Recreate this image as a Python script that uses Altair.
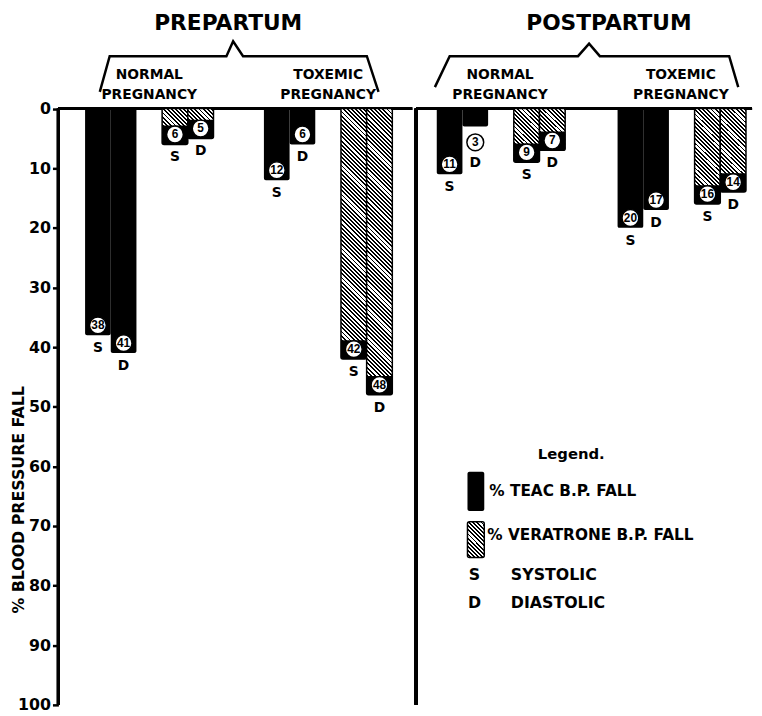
import altair as alt
import pandas as pd

# ---------------- data ----------------
periods = ["PREPARTUM", "POSTPARTUM"]
groups = ["NORMAL\nPREGNANCY", "TOXEMIC\nPREGNANCY"]
series = ["TEAC S", "TEAC D", "VERATRONE S", "VERATRONE D"]
prepartum_normal = [38, 41, 6, 5]
prepartum_toxemic = [12, 6, 42, 48]
postpartum_normal = [11, 3, 9, 7]
postpartum_toxemic = [20, 17, 16, 14]
y_ticks = [0, 10, 20, 30, 40, 50, 60, 70, 80, 90, 100]
legend_title = "Legend."
legend_swatch_labels = ["% TEAC B.P. FALL", "% VERATRONE B.P. FALL"]
legend_letters = ["S", "D"]
legend_letter_labels = ["SYSTOLIC", "DIASTOLIC"]

values = {
    ("PREPARTUM", groups[0]): prepartum_normal,
    ("PREPARTUM", groups[1]): prepartum_toxemic,
    ("POSTPARTUM", groups[0]): postpartum_normal,
    ("POSTPARTUM", groups[1]): postpartum_toxemic,
}
rows = []
for p in periods:
    for gi, g in enumerate(groups):
        for si, s in enumerate(series):
            drug, meas = s.split()
            rows.append(dict(period=p, group=g, slot=s, drug=drug, measure=meas,
                             value=values[(p, g)][si], rid=f"{p}-{gi}-{si}"))
df = pd.DataFrame(rows)

# ---------------- layout / style ----------------
FONT = "DejaVu Sans"
NUM_FONT = "Liberation Sans"
HEIGHT = 700
YMIN, YMAX = -16, 100
PX = HEIGHT / (YMAX - YMIN)
slots = ["TEAC S", "TEAC D", "_gap", "VERATRONE S", "VERATRONE D"]

PANELS = {
    "PREPARTUM": dict(width=358, pin=0.282, pout=0.13, align=0.574,
                      brace_x=[0.117, 0.145, 0.475, 0.494, 0.522, 0.872, 0.905],
                      brace_y=[-2.8, -8.8, -8.8, -11.3, -8.8, -8.8, -2.8],
                      title_x=0.48),
    "POSTPARTUM": dict(width=340, pin=0.30, pout=0.079, align=0.724,
                       brace_x=[0.056, 0.10, 0.482, 0.515, 0.547, 0.932, 0.959],
                       brace_y=[-3.6, -8.8, -8.8, -10.9, -8.8, -8.8, -3.6],
                       title_x=0.574),
}
TITLE_Y = -14.3
GROUP_LABEL_Y = -5.6
BLOCK_PX = 19  # black block around the value circle at the foot of hatched bars


def hatch_fill(w, h, period=4.2, dark=0.45):
    L = w + h
    t = L / (w * w + h * h)
    stops = []
    n = int(L / period) + 1
    for k in range(n):
        a = k * period / L
        b = (k * period + period * (1 - dark)) / L
        e = (k + 1) * period / L
        for off, col in ((a, "white"), (b, "white"), (b, "black"), (e, "black")):
            if off <= 1:
                stops.append(alt.GradientStop(offset=round(off, 5), color=col))
    return alt.LinearGradient(gradient="linear", stops=stops,
                              x1=0, y1=1, x2=round(w * t, 5), y2=round(1 - h * t, 5))


YS = alt.Scale(domain=[YMIN, YMAX], reverse=True, nice=False, zero=False)

Y_AXIS = alt.Axis(values=y_ticks, domain=False, grid=False, tickSize=6, tickWidth=2.5,
                  tickColor="black", labelFont=FONT, labelFontWeight="bold",
                  labelFontSize=16, labelColor="black", labelPadding=2,
                  title="% BLOOD PRESSURE FALL", titleFont=FONT, titleFontSize=16,
                  titleFontWeight="bold", titleColor="black", titleAngle=270,
                  titleX=-32, titleY=492, titleAlign="center", titleBaseline="bottom")


def make_panel(period, with_axis):
    cfg = PANELS[period]
    W = cfg["width"]
    ax = Y_AXIS if with_axis else None
    pdf = df[df.period == period]
    base = alt.Chart(pdf)

    def yq(field):
        return alt.Y(field, type="quantitative", scale=YS, axis=ax)

    xg = alt.X("group:N", scale=alt.Scale(domain=groups, paddingInner=cfg["pin"],
                                          paddingOuter=cfg["pout"], align=cfg["align"]),
               axis=None)
    xo = alt.XOffset("slot:N", scale=alt.Scale(domain=slots, paddingInner=0, paddingOuter=0))
    step = W / (2 - cfg["pin"] + 2 * cfg["pout"])
    slot_w = step * (1 - cfg["pin"]) / len(slots)

    layers = []
    # frame lines
    layers.append(base.mark_rule(color="black", strokeWidth=3).encode(
        y=alt.Y(datum=0, type="quantitative", scale=YS, axis=ax)))
    layers.append(base.mark_rule(color="black", strokeWidth=3).encode(
        x=alt.value(0), y=alt.Y(datum=0, type="quantitative", scale=YS, axis=ax),
        y2=alt.datum(100)))
    # black TEAC bars
    layers.append(base.transform_filter(alt.datum.drug == "TEAC").mark_bar(
        color="black", cornerRadiusBottomLeft=2, cornerRadiusBottomRight=2).encode(
        x=xg, xOffset=xo, y=yq("value"), y2=alt.datum(0)))
    # hatched VERATRONE bars, each with its own hatch gradient
    for _, r in pdf[pdf.drug == "VERATRONE"].iterrows():
        grad = hatch_fill(slot_w, r["value"] * PX)
        layers.append(base.transform_filter(alt.datum.rid == r["rid"]).mark_bar(
            fill=grad, stroke="black", strokeWidth=1.5,
            cornerRadiusBottomLeft=2, cornerRadiusBottomRight=2).encode(
            x=xg, xOffset=xo, y=yq("value"), y2=alt.datum(0)))
    # black foot block around the circle of hatched bars
    layers.append(base.transform_filter(alt.datum.drug == "VERATRONE").transform_calculate(
        btop=f"max(0, datum.value - {BLOCK_PX / PX:.4f})").mark_bar(
        color="black", cornerRadiusBottomLeft=2, cornerRadiusBottomRight=2).encode(
        x=xg, xOffset=xo, y=yq("value"), y2="btop:Q"))
    # value circles + S/D letters
    for cond, c_off, l_off in (("datum.value >= 4", -10, 13), ("datum.value < 4", 16, 37)):
        sub = base.transform_filter(cond)
        layers.append(sub.mark_point(shape="circle", filled=True, fill="white", stroke="black",
                                     strokeWidth=1.5, size=290, opacity=1, yOffset=c_off).encode(
            x=xg, xOffset=xo, y=yq("value")))
        layers.append(sub.mark_text(font=NUM_FONT, fontWeight="bold", fontSize=12, color="black",
                                    baseline="middle", align="center", yOffset=c_off).encode(
            x=xg, xOffset=xo, y=yq("value"), text=alt.Text("value:Q")))
        layers.append(sub.mark_text(font=FONT, fontWeight="bold", fontSize=14, color="black",
                                    baseline="middle", align="center", yOffset=l_off).encode(
            x=xg, xOffset=xo, y=yq("value"), text="measure:N"))
    # group labels
    gl = pd.DataFrame({"group": groups, "gy": [GROUP_LABEL_Y] * len(groups)})
    layers.append(alt.Chart(gl).mark_text(font=FONT, fontWeight="bold", fontSize=14,
                                          color="black", lineBreak="\n", lineHeight=20,
                                          baseline="middle", align="center").encode(
        x=xg, y=yq("gy"), text="group:N"))
    data_layer = alt.layer(*layers)

    # decor: brace + title (+ legend) on a fractional x scale
    XF = alt.Scale(domain=[0, 1], nice=False, zero=False)
    brace = pd.DataFrame({"bx": cfg["brace_x"], "by": cfg["brace_y"],
                          "i": list(range(len(cfg["brace_x"])))})
    decor = [alt.Chart(brace).mark_line(color="black", strokeWidth=2.5, strokeJoin="miter").encode(
        x=alt.X("bx:Q", scale=XF, axis=None), y=yq("by"), order="i:Q")]
    tdf = pd.DataFrame({"tx": [cfg["title_x"]], "ty": [TITLE_Y], "t": [period]})
    decor.append(alt.Chart(tdf).mark_text(font=FONT, fontWeight="bold", fontSize=22,
                                          color="black", baseline="middle", align="center").encode(
        x=alt.X("tx:Q", scale=XF, axis=None), y=yq("ty"), text="t:N"))
    if period == "POSTPARTUM":
        ldf = pd.DataFrame({"t": [legend_title], "lx": [0.462], "ly": [58.0]})
        decor.append(alt.Chart(ldf).mark_text(font=FONT, fontWeight="bold", fontSize=15,
                                              color="black", baseline="middle", align="center").encode(
            x=alt.X("lx:Q", scale=XF, axis=None), y=yq("ly"), text="t:N"))
        sw = pd.DataFrame({"t": legend_swatch_labels, "x0": [0.153, 0.153], "x1": [0.203, 0.203],
                           "y0": [60.9, 69.3], "y1": [67.5, 75.3], "tx": [0.218, 0.212],
                           "ty": [64.2, 71.6]})
        decor.append(alt.Chart(sw.iloc[[0]]).mark_rect(color="black", cornerRadius=2).encode(
            x=alt.X("x0:Q", scale=XF, axis=None), x2="x1:Q", y=yq("y0"), y2="y1:Q"))
        decor.append(alt.Chart(sw.iloc[[1]]).mark_rect(
            fill=hatch_fill(17, 36), stroke="black", strokeWidth=1.5, cornerRadius=2).encode(
            x=alt.X("x0:Q", scale=XF, axis=None), x2="x1:Q", y=yq("y0"), y2="y1:Q"))
        decor.append(alt.Chart(sw).mark_text(font=FONT, fontWeight="bold", fontSize=15.5,
                                             color="black", baseline="middle", align="left").encode(
            x=alt.X("tx:Q", scale=XF, axis=None), y=yq("ty"), text="t:N"))
        sd = pd.DataFrame({"l": legend_letters, "t": legend_letter_labels,
                           "lx": [0.174, 0.174], "tx": [0.282, 0.282], "ty": [78.3, 82.9]})
        decor.append(alt.Chart(sd).mark_text(font=FONT, fontWeight="bold", fontSize=16,
                                             color="black", baseline="middle", align="center").encode(
            x=alt.X("lx:Q", scale=XF, axis=None), y=yq("ty"), text="l:N"))
        decor.append(alt.Chart(sd).mark_text(font=FONT, fontWeight="bold", fontSize=16,
                                             color="black", baseline="middle", align="left").encode(
            x=alt.X("tx:Q", scale=XF, axis=None), y=yq("ty"), text="t:N"))
    decor_layer = alt.layer(*decor)

    return alt.layer(data_layer, decor_layer).resolve_scale(x="independent").properties(
        width=W, height=HEIGHT)


left = make_panel("PREPARTUM", True)
right = make_panel("POSTPARTUM", False)

chart = alt.hconcat(left, right, spacing=0).properties(
    padding={"left": 3, "top": 0, "right": 0, "bottom": 0},
    background="white",
).configure_view(strokeWidth=0)

chart.save("out.html", embed_options={"renderer": "svg", "actions": False})
